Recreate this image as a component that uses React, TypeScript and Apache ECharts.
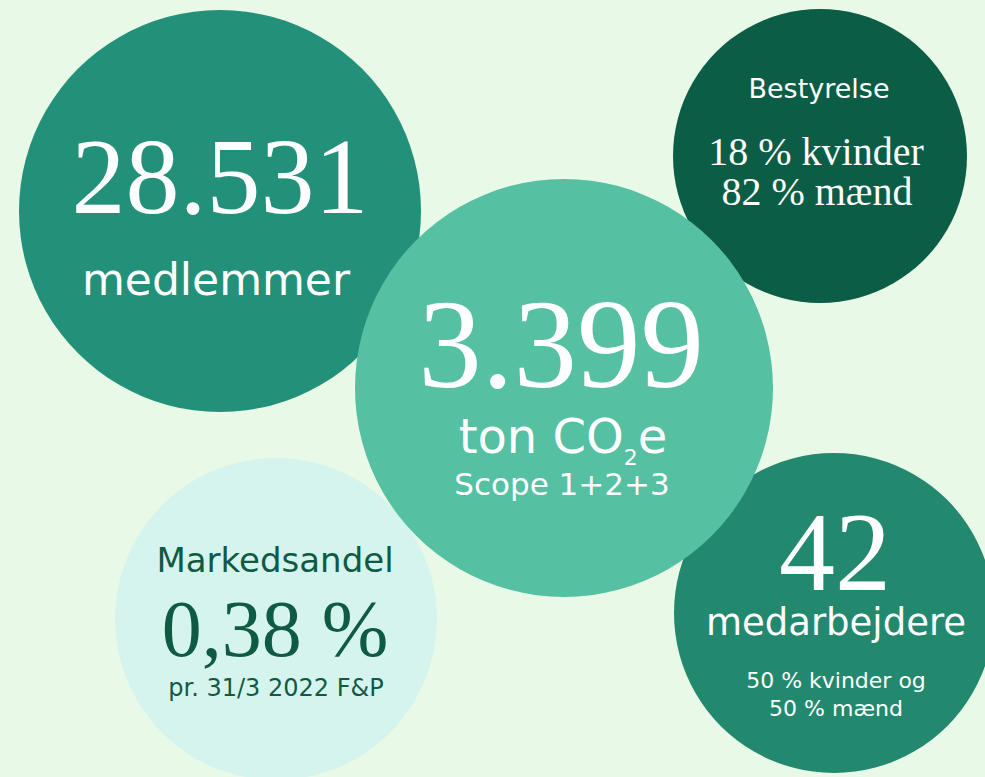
import React, { useEffect, useRef } from "react";
import * as echarts from "echarts";

// ---- content (texts / values) ----
const bigNumbers = ["28.531", "3.399", "42", "0,38 %"];
const numberLabels = ["medlemmer", "ton CO", "medarbejdere", "Markedsandel"];
const co2Suffix = ["2", "e"];
const scopeText = ["Scope 1+2+3"];
const boardTitle = ["Bestyrelse"];
const boardLines = ["18 % kvinder", "82 % mænd"];
const staffLines = ["50 % kvinder og", "50 % mænd"];
const shareNote = ["pr. 31/3 2022 F&P"];

// ---- colours ----
const BG = "#e9f9e8";
const C_MEMBERS = "#23917a";
const C_BOARD = "#0b5d45";
const C_CO2 = "#55c0a2";
const C_SHARE = "#d6f4ee";
const C_STAFF = "#22896f";
const DARK = "#0f5a43";

const SERIF = "'Liberation Serif', 'DejaVu Serif', serif";
const SANS = "'DejaVu Sans', 'Noto Sans', sans-serif";

function txt(
  text: string,
  x: number,
  y: number,
  size: number,
  family: string,
  fill: string,
  z = 10,
  align = "center",
  lineHeight?: number
) {
  const style: any = {
    text,
    x: 0,
    y: 0,
    fill,
    fontSize: size,
    fontFamily: family,
    fontWeight: "normal",
    align,
    verticalAlign: "middle",
  };
  if (lineHeight) style.lineHeight = lineHeight;
  return { type: "text", z, x, y, style };
}

function circle(cx: number, cy: number, r: number, fill: string, z: number, extra: any = {}) {
  return { type: "circle", z, shape: { cx, cy, r }, style: { fill, ...extra } };
}

function measure(text: string, size: number, family: string): number {
  const c = document.createElement("canvas");
  const ctx = c.getContext("2d");
  if (!ctx) return text.length * size * 0.6;
  ctx.font = `normal ${size}px ${family}`;
  return ctx.measureText(text).width;
}

export default function App() {
  const ref = useRef<HTMLDivElement>(null);
  useEffect(() => {
    if (!ref.current) return;
    const chart = echarts.init(ref.current, null, { renderer: "svg" });

    // CO2e line composed of three pieces
    const mainSize = 48;
    const subSize = 22;
    const w1 = measure(numberLabels[1], mainSize, SANS);
    const w2 = measure(co2Suffix[0], subSize, SANS);
    const w3 = measure(co2Suffix[1], mainSize, SANS);
    const total = w1 + w2 + w3;
    const co2Cx = 563;
    const x0 = co2Cx - total / 2;

    const W = "#ffffff";
    const graphic: any[] = [
      circle(220, 211, 201, C_MEMBERS, 1),
      circle(820, 156, 147, C_BOARD, 1),
      circle(276, 619, 161, C_SHARE, 1),
      circle(834, 613, 160, C_STAFF, 1),
      circle(564, 388, 209, C_CO2, 3),
      // members
      txt(bigNumbers[0], 220, 176, 108, SERIF, W, 2, "center", 80),
      txt(numberLabels[0], 216, 279, 44, SANS, W, 2, "center", 40),
      // board
      txt(boardTitle[0], 819, 88, 27, SANS, W, 2, "center", 26),
      txt(boardLines[0], 816, 151, 40, SERIF, W, 2, "center", 34),
      txt(boardLines[1], 817, 191, 40, SERIF, W, 2, "center", 34),
      // share
      txt(numberLabels[3], 275, 560, 34, SANS, DARK, 2, "center", 32),
      txt(bigNumbers[3], 275, 629, 80, SERIF, DARK, 2, "center", 60),
      txt(shareNote[0], 276, 688, 24, SANS, DARK, 2, "center", 22),
      // staff
      txt(bigNumbers[2], 835, 552, 112, SERIF, W, 2, "center", 80),
      txt(numberLabels[2], 836, 622, 37, SANS, W, 2, "center", 34),
      txt(staffLines[0], 836, 680, 22, SANS, W, 2, "center", 22),
      txt(staffLines[1], 836, 708, 22, SANS, W, 2, "center", 22),
      // co2
      txt(bigNumbers[1], 561, 344, 127, SERIF, W, 5, "center", 90),
      txt(numberLabels[1], x0, 436, mainSize, SANS, W, 5, "left", 40),
      txt(co2Suffix[0], x0 + w1, 457, subSize, SANS, W, 5, "left", 18),
      txt(co2Suffix[1], x0 + w1 + w2, 436, mainSize, SANS, W, 5, "left", 40),
      txt(scopeText[0], 562, 484, 31, SANS, W, 5, "center", 28),
    ];
    chart.setOption({
      animation: false,
      backgroundColor: BG,
      graphic: { elements: graphic },
    });
    return () => chart.dispose();
  }, []);
  return (
    <div
      ref={ref}
      style={{ position: "fixed", left: 0, top: 0, width: 985, height: 777, background: BG }}
    />
  );
}
